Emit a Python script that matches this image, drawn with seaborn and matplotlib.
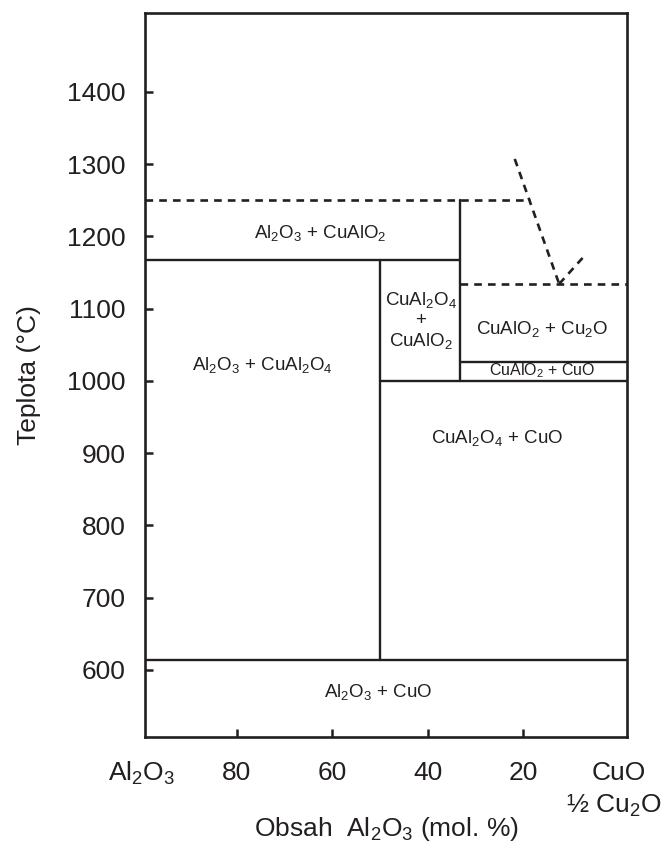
import matplotlib
matplotlib.use("Agg")
import matplotlib.pyplot as plt
import matplotlib.transforms as mtransforms
import numpy as np
import pandas as pd
import seaborn as sns

# Composition axis: mol. % Al2O3 (left = pure Al2O3, right = CuO / 1/2 Cu2O)
X_LEFT = 99.2
X_RIGHT = -1.7
T_LOW = 507
T_HIGH = 1509

# Solid phase boundaries: (x0, T0, x1, T1)
solid_x0 = [33.3, X_LEFT, 50.0, 33.3, 50.0, X_LEFT]
solid_t0 = [1250, 1167, 1167, 1026, 1000, 613]
solid_x1 = [33.3, 33.3, 50.0, X_RIGHT, X_RIGHT, X_RIGHT]
solid_t1 = [1000, 1167, 613, 1026, 1000, 613]

# Dashed (liquidus / uncertain) boundaries
dash_x0 = [X_LEFT, 33.3, 21.8, 12.5]
dash_t0 = [1250, 1134, 1307, 1134]
dash_x1 = [18.6, X_RIGHT, 12.5, 7.6]
dash_t1 = [1250, 1134, 1134, 1170]

# Phase field labels
field_labels = [
    r"Al$_2$O$_3$ + CuAlO$_2$",
    r"Al$_2$O$_3$ + CuAl$_2$O$_4$",
    "CuAl$_2$O$_4$\n+\nCuAlO$_2$",
    r"CuAlO$_2$ + Cu$_2$O",
    r"CuAlO$_2$ + CuO",
    r"CuAl$_2$O$_4$ + CuO",
    r"Al$_2$O$_3$ + CuO",
]
field_x = [62.6, 74.7, 41.5, 16.0, 16.1, 25.5, 50.4]
field_t = [1205, 1022, 1083, 1072, 1014, 921, 569]
field_size = [13.5, 13.5, 13.5, 13.5, 11.5, 13.5, 13.5]

x_ticks = [80, 60, 40, 20]
t_ticks = [600, 700, 800, 900, 1000, 1100, 1200, 1300, 1400]


def segments_frame(x0, t0, x1, t1):
    rows = []
    for i, (a, b, c, d) in enumerate(zip(x0, t0, x1, t1)):
        rows.append({"seg": i, "order": 0, "x": a, "T": b})
        rows.append({"seg": i, "order": 1, "x": c, "T": d})
    return pd.DataFrame(rows)


sns.set_style("ticks")
plt.rcParams["font.family"] = ["Liberation Sans", "DejaVu Sans"]
plt.rcParams["mathtext.fontset"] = "custom"
plt.rcParams["mathtext.rm"] = "Liberation Sans"
plt.rcParams["mathtext.it"] = "Liberation Sans"
plt.rcParams["mathtext.default"] = "regular"

fig = plt.figure(figsize=(6.65, 8.44), dpi=100)
ax = fig.add_axes([145 / 665, 107 / 844, 482 / 665, 724 / 844])

ink = "#231f20"

solid = segments_frame(solid_x0, solid_t0, solid_x1, solid_t1)
dashed = segments_frame(dash_x0, dash_t0, dash_x1, dash_t1)

sns.lineplot(data=solid, x="x", y="T", units="seg", estimator=None, sort=False,
             color=ink, linewidth=1.7, ax=ax, legend=False)
sns.lineplot(data=dashed, x="x", y="T", units="seg", estimator=None, sort=False,
             color=ink, linewidth=1.9, ax=ax, legend=False, dashes=False)
for line in ax.lines[len(solid_x0):]:
    line.set_dashes([2.9, 2.3])
    line.set_dash_capstyle("butt")

for txt, x, t, s in zip(field_labels, field_x, field_t, field_size):
    ax.text(x, t, txt, ha="center", va="center", fontsize=s, color=ink,
            linespacing=1.15, multialignment="center")

ax.set_xlim(X_LEFT, X_RIGHT)
ax.set_ylim(T_LOW, T_HIGH)
ax.set_xticks(x_ticks)
ax.set_xticklabels([str(v) for v in x_ticks])
ax.set_yticks(t_ticks)
ax.set_yticklabels([str(v) for v in t_ticks])
ax.tick_params(axis="both", direction="in", length=6, width=1.8, colors=ink,
               labelsize=19, labelcolor=ink)
ax.tick_params(axis="x", pad=17)
ax.tick_params(axis="y", pad=14)

for sp in ax.spines.values():
    sp.set_linewidth(1.9)
    sp.set_color(ink)

ax.set_ylabel("Teplota (°C)", fontsize=19, color=ink, labelpad=19)
ax.set_xlabel(r"Obsah  Al$_2$O$_3$ (mol. %)", fontsize=19, color=ink, labelpad=22)

# End-member labels under the composition axis
trans = mtransforms.blended_transform_factory(ax.transData, fig.transFigure)
ax.text(100, 1 - 773 / 844, r"Al$_2$O$_3$", transform=trans, ha="center",
        va="center", fontsize=19, color=ink)
ax.text(0, 1 - 773 / 844, "CuO", transform=trans, ha="center",
        va="center", fontsize=19, color=ink)
fig.text(662 / 665, 1 - 806 / 844, r"½ Cu$_2$O", ha="right",
         va="center", fontsize=19, color=ink)

fig.savefig("out.png", dpi=100)
